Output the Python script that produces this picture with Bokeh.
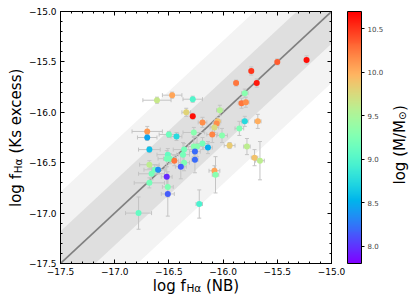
import numpy as np
from bokeh.plotting import figure
from bokeh.layouts import row, column
from bokeh.models import (ColumnDataSource, LinearColorMapper, ColorBar, LinearAxis, FixedTicker,
                          CustomJSTickFormatter, Whisker, TeeHead, Label, Range1d, PrintfTickFormatter)
from bokeh.embed import file_html
from bokeh.resources import INLINE

# ---------------- data ----------------
log_f_nb = [-16.47, -16.61, -16.28, -16.34, -16.28, -16.70, -16.70, -16.50, -16.43, -16.27,
            -16.68, -16.03, -16.19, -16.05, -16.06, -16.08, -16.10, -16.01, -15.85, -15.80,
            -15.68, -16.19, -16.27, -16.24, -16.14, -15.94, -15.78, -16.36, -16.26, -16.37,
            -16.51, -16.52, -16.49, -16.45, -16.36, -16.26, -16.39, -16.68, -16.63, -16.60,
            -16.66, -16.52, -16.68, -16.51, -16.51, -16.78, -16.22, -16.08, -16.07, -15.71,
            -15.66, -15.50, -15.23, -15.74, -15.88, -15.69, -15.80, -15.83, -15.79]
log_f_ks = [-15.83, -15.88, -15.87, -16.00, -16.04, -16.19, -16.25, -16.22, -16.24, -16.20,
            -16.37, -15.98, -16.10, -16.09, -16.11, -16.15, -16.22, -16.23, -16.16, -16.09,
            -16.09, -16.31, -16.34, -16.34, -16.35, -16.33, -16.34, -16.37, -16.39, -16.42,
            -16.42, -16.46, -16.46, -16.48, -16.50, -16.47, -16.54, -16.52, -16.57, -16.57,
            -16.61, -16.64, -16.70, -16.74, -16.81, -17.00, -16.91, -16.58, -16.62, -16.45,
            -16.48, -15.50, -15.48, -15.59, -15.71, -15.71, -15.81, -15.91, -15.90]
err_nb = [0.09, 0.13, 0.09, 0.04, 0.02, 0.14, 0.09, 0.09, 0.05, 0.10,
          0.10, 0.03, 0.04, 0.03, 0.03, 0.04, 0.05, 0.05, 0.04, 0.03,
          0.03, 0.06, 0.05, 0.05, 0.04, 0.05, 0.03, 0.10, 0.05, 0.06,
          0.10, 0.08, 0.06, 0.04, 0.05, 0.03, 0.05, 0.09, 0.10, 0.06,
          0.12, 0.05, 0.14, 0.05, 0.06, 0.12, 0.03, 0.05, 0.03, 0.03,
          0.04, 0.02, 0.02, 0.02, 0.02, 0.02, 0.03, 0.03, 0.03]
err_ks = [0.03, 0.03, 0.03, 0.04, 0.03, 0.05, 0.03, 0.03, 0.04, 0.05,
          0.03, 0.05, 0.05, 0.04, 0.04, 0.05, 0.08, 0.07, 0.07, 0.05,
          0.07, 0.06, 0.10, 0.10, 0.06, 0.03, 0.08, 0.06, 0.06, 0.12,
          0.06, 0.08, 0.05, 0.05, 0.08, 0.13, 0.12, 0.04, 0.05, 0.04,
          0.06, 0.10, 0.05, 0.10, 0.22, 0.16, 0.14, 0.05, 0.18, 0.08,
          0.19, 0.03, 0.04, 0.04, 0.03, 0.04, 0.04, 0.05, 0.05]
log_mass = [10.05, 9.65, 9.00, 9.80, 10.65, 10.10, 8.45, 9.15, 8.75, 9.30,
            8.60, 9.55, 10.15, 9.90, 10.15, 9.75, 10.20, 9.30, 9.25, 8.75,
            10.00, 9.20, 9.30, 9.30, 8.50, 9.85, 9.60, 9.20, 8.20, 9.20,
            9.10, 9.20, 9.20, 10.25, 9.25, 8.20, 8.15, 9.60, 9.20, 8.35,
            9.20, 7.95, 9.20, 9.25, 8.15, 9.10, 8.95, 10.05, 9.30, 9.90,
            9.60, 10.35, 10.65, 10.50, 10.25, 10.60, 9.30, 10.25, 10.15]

x_limits = [-17.5, -15.0]
y_limits = [-17.5, -15.0]
major_ticks = [-17.5, -17.0, -16.5, -16.0, -15.5, -15.0]
inner_band = 0.32
outer_band = 0.71
mass_limits = [7.8, 10.7]
mass_ticks = [8.0, 8.5, 9.0, 9.5, 10.0, 10.5]


def rainbow(n=256):
    cols = []
    for i in range(n):
        t = i / (n - 1)
        r = min(1.0, max(0.0, abs(2 * t - 0.5)))
        g = min(1.0, max(0.0, np.sin(np.pi * t)))
        b = min(1.0, max(0.0, np.cos(np.pi * t / 2)))
        cols.append('#%02x%02x%02x' % (round(r * 255), round(g * 255), round(b * 255)))
    return cols


FONT = "DejaVu Sans"
BORDER_L, BORDER_R = 34, 59

# ---------------- main plot ----------------
p = figure(width=365, height=278, output_backend="svg", toolbar_location=None,
           x_range=Range1d(*x_limits), y_range=Range1d(*y_limits),
           min_border_left=BORDER_L, min_border_right=BORDER_R, min_border_top=11, min_border_bottom=15)
p.grid.visible = False
p.outline_line_color = "black"
p.background_fill_color = "white"
p.border_fill_color = "white"

minor = [round(v, 2) for v in np.arange(x_limits[0], x_limits[1] + 0.001, 0.1)]


def style_axis(ax, labels=True):
    ax.ticker = FixedTicker(ticks=major_ticks, minor_ticks=minor)
    ax.major_tick_in = 4
    ax.major_tick_out = 0
    ax.minor_tick_in = 2
    ax.minor_tick_out = 0
    ax.axis_line_color = "black"
    ax.major_tick_line_color = "black"
    ax.minor_tick_line_color = "black"
    ax.axis_line_width = 1
    ax.axis_label = None
    if labels:
        ax.formatter = CustomJSTickFormatter(code="return tick.toFixed(1).replace('-', '\u2212')")
        ax.major_label_text_font = FONT
        ax.major_label_text_font_size = "9px"
        ax.major_label_text_color = "black"
        ax.major_label_standoff = 4
    else:
        ax.major_label_text_font_size = "1px"
        ax.major_label_text_color = None
        ax.major_label_standoff = 0


style_axis(p.xaxis[0])
style_axis(p.yaxis[0])
top_ax = LinearAxis()
right_ax = LinearAxis()
style_axis(top_ax, labels=False)
style_axis(right_ax, labels=False)
p.add_layout(top_ax, "above")
p.add_layout(right_ax, "right")

# shaded bands and 1:1 line
band_x = [x_limits[0] - 1, x_limits[1] + 1]
p.varea(x=band_x, y1=[v - outer_band for v in band_x], y2=[v + outer_band for v in band_x],
        fill_color="#f3f3f3", level="image")
p.varea(x=band_x, y1=[v - inner_band for v in band_x], y2=[v + inner_band for v in band_x],
        fill_color="#dfdfdf", level="image")
p.line(x=x_limits, y=y_limits, line_color="#808080", line_width=1.6, level="image")

src = ColumnDataSource(dict(
    x=log_f_nb, y=log_f_ks, mass=log_mass,
    xlo=[a - e for a, e in zip(log_f_nb, err_nb)], xhi=[a + e for a, e in zip(log_f_nb, err_nb)],
    ylo=[a - e for a, e in zip(log_f_ks, err_ks)], yhi=[a + e for a, e in zip(log_f_ks, err_ks)],
))
ecol = "#c4c4c4"
for base, lo, hi, dim in [("x", "ylo", "yhi", "height"), ("y", "xlo", "xhi", "width")]:
    p.add_layout(Whisker(source=src, base=base, lower=lo, upper=hi, dimension=dim,
                         line_color=ecol, line_width=1, level="underlay",
                         lower_head=TeeHead(size=4, line_color=ecol, line_width=1),
                         upper_head=TeeHead(size=4, line_color=ecol, line_width=1)))

mapper = LinearColorMapper(palette=rainbow(), low=mass_limits[0], high=mass_limits[1])
p.scatter("x", "y", source=src, size=6,
          fill_color={"field": "mass", "transform": mapper}, line_color=None)

cb = ColorBar(color_mapper=mapper, ticker=FixedTicker(ticks=mass_ticks),
              formatter=PrintfTickFormatter(format="%.1f"),
              width=14, height=252, margin=0, padding=0, location=(16, 0),
              major_tick_in=0, major_tick_out=3, major_tick_line_color="black",
              minor_tick_line_color=None, bar_line_color="black", bar_line_width=1,
              major_label_text_font=FONT, major_label_text_font_size="7px",
              label_standoff=3, background_fill_alpha=0, border_line_color=None)
p.add_layout(cb, "right")


# ---------------- label strips ----------------
def text_fig(w, h, x0=0, x1=None, bl=0, br=0):
    f = figure(width=w, height=h, output_backend="svg", toolbar_location=None,
               x_range=Range1d(x0, x1 if x1 is not None else w), y_range=Range1d(0, h),
               x_axis_type=None, y_axis_type=None,
               min_border_left=bl, min_border_right=br, min_border_top=0, min_border_bottom=0)
    f.outline_line_color = None
    f.background_fill_color = "white"
    f.border_fill_color = "white"
    return f


def add_text(f, text, x, y, size, angle=0.0, align="left"):
    f.add_layout(Label(x=x, y=y, text=text, text_font=FONT, text_font_size=f"{size}px",
                       angle=angle, text_align=align, text_baseline="alphabetic",
                       text_color="black"))


rot = np.pi / 2

# y-axis label: log f_Hα (Ks excess)
ylab = text_fig(25, 303)
add_text(ylab, "log f", 15.0, 96.5, 15, rot)
add_text(ylab, "H\u03b1", 17.0, 130.2, 10.5, rot)
add_text(ylab, "(Ks excess)", 15.0, 234.8, 15, rot, align="right")

# x-axis label: log f_Hα (NB); x coordinates are page pixels (frame spans 59..331)
xlab = text_fig(365, 25, x0=59, x1=331, bl=BORDER_L, br=BORDER_R)
add_text(xlab, "log f", 151.7, 17.5, 15)
add_text(xlab, "H\u03b1", 185.4, 15.5, 10.5)
add_text(xlab, "(NB)", 205.0, 17.5, 15)

# colorbar label: log (M/M_⊙)
cblab = text_fig(25, 303)
add_text(cblab, "log (M/M", 9.5, 119.0, 15, rot)
add_text(cblab, "\u2299", 11.5, 183.4, 10.5, rot)
add_text(cblab, ")", 9.5, 192.6, 15, rot)

layout = row(ylab, column(p, xlab, spacing=0), cblab, spacing=0)

open("out.html", "w").write(file_html(layout, INLINE))
